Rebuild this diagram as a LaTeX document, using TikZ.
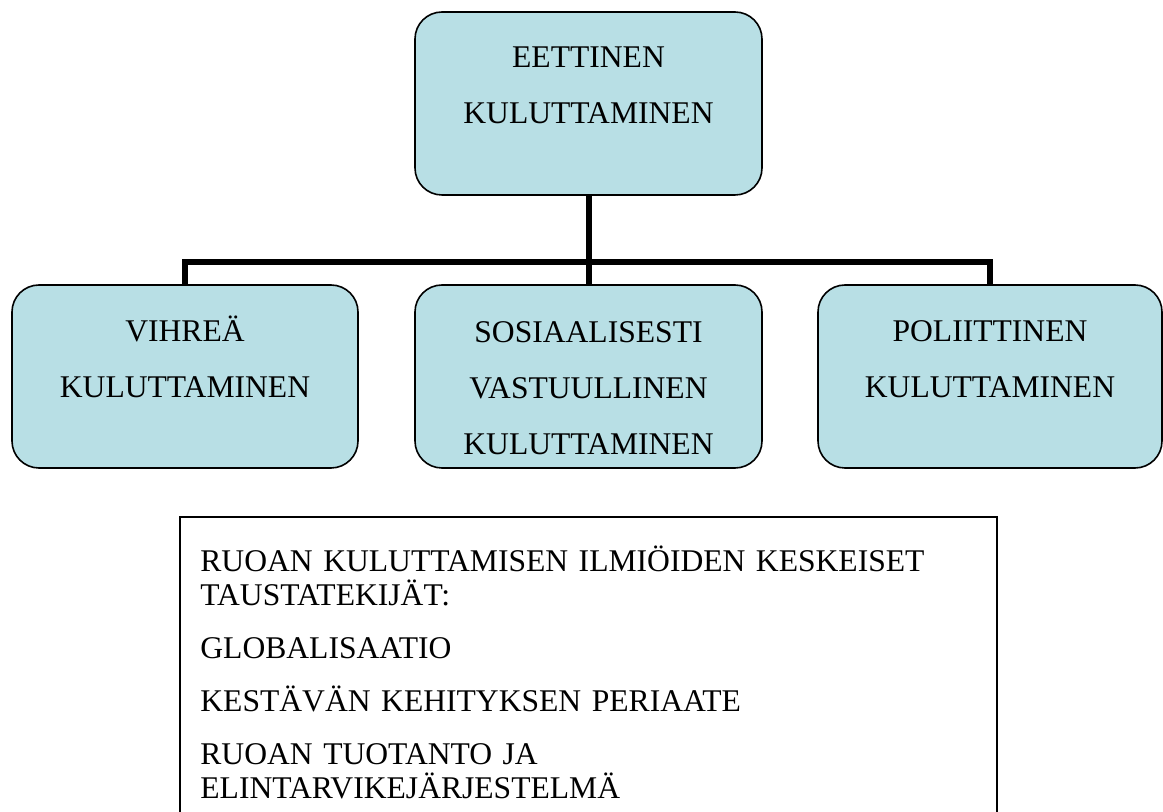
\documentclass[tikz,border=0pt]{standalone}
\usepackage{fontspec}
\setmainfont{Liberation Serif}
\usepackage{tikz}
\usetikzlibrary{positioning}
\definecolor{cardblue}{RGB}{184,223,229}

\begin{document}
\begin{tikzpicture}[x=0.5pt, y=-0.5pt,
  card/.style={draw=black, line width=0.8pt, fill=cardblue, rounded corners=13.5pt, inner sep=0pt, minimum height=91.5pt},
  cardtext/.style={anchor=base, text width=170pt, align=center, inner sep=0pt, font=\fontsize{15.8}{27.8}\selectfont},
  link/.style={line width=3pt},
  factbox/.style={draw=black, line width=1pt, inner sep=0pt, anchor=north west}]
  \useasboundingbox (0,0) rectangle (1163,812);

  \node[card, minimum width=173.5pt] (eett) at (588.5,103.5) {};
  \node[card, minimum width=173pt] (vihrea) at (185,376.5) {};
  \node[card, minimum width=173.5pt] (sosi) at (588.5,376.5) {};
  \node[card, minimum width=172pt] (poli) at (990,376.5) {};

  \node[cardtext] (eetttxt) at (588.5,68) {EETTINEN\\KULUTTAMINEN};
  \node[cardtext] (vihreatxt) at (185,342) {VIHREÄ\\KULUTTAMINEN};
  \node[cardtext] (sositxt) at (588.5,343) {SOSIAALISESTI\\VASTUULLINEN\\KULUTTAMINEN};
  \node[cardtext] (politxt) at (990,342) {POLIITTINEN\\KULUTTAMINEN};

  \coordinate (bus) at (588.5,262);
  \draw[link] (eett.south) -- (bus);
  \draw[link] (vihrea.north) |- (bus) -| (poli.north);
  \draw[link] (bus) -- (sosi.north);

  \node[factbox, minimum width=408.5pt, minimum height=160pt] (tausta) at (179,516) {};
  \node[anchor=base west, text width=395pt, align=left, inner sep=0pt, font=\fontsize{15.8}{17}\selectfont] (taustatxt) at (200,572) {%
    RUOAN KULUTTAMISEN ILMIÖIDEN KESKEISET\\TAUSTATEKIJÄT:\\[9.5pt]%
    GLOBALISAATIO\\[9.5pt]%
    KESTÄVÄN KEHITYKSEN PERIAATE\\[9.5pt]%
    RUOAN TUOTANTO JA\\ELINTARVIKEJÄRJESTELMÄ};
\end{tikzpicture}
\end{document}
